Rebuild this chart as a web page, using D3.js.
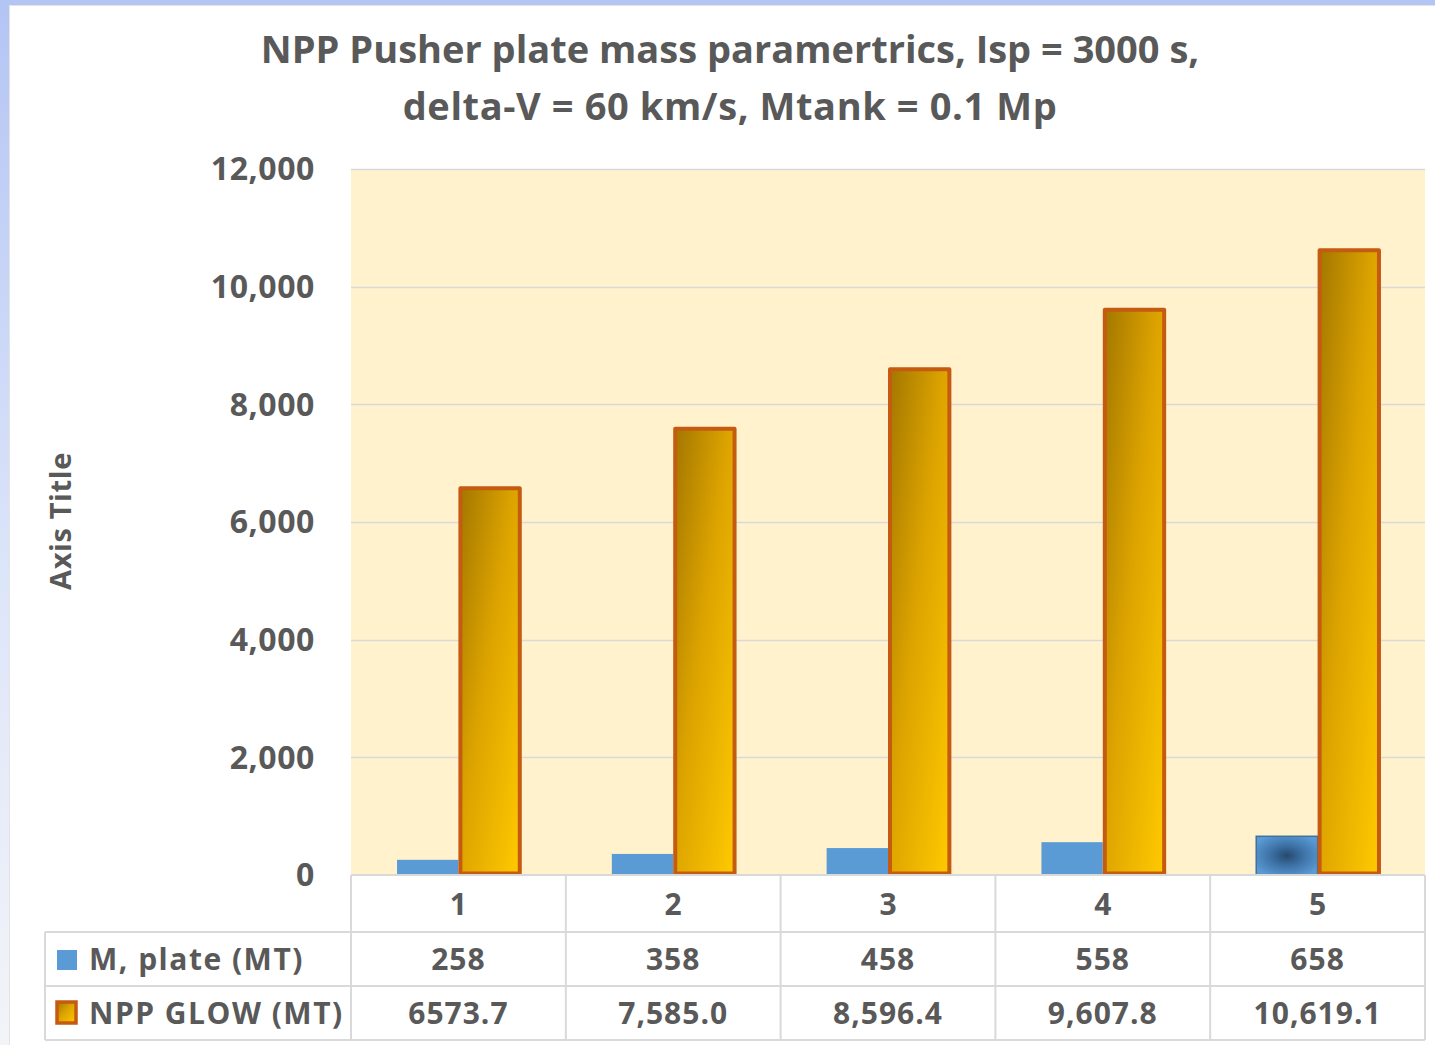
<!DOCTYPE html>
<html>
<head>
<meta charset="utf-8">
<script src="https://cdn.jsdelivr.net/npm/d3@7"></script>
<style>
  html, body { margin: 0; padding: 0; background: #ffffff; }
  svg { display: block; }
  text { font-family: "Open Sans", Lato, sans-serif; font-weight: 700; fill: #595959; }
</style>
</head>
<body>
<svg id="chart" width="1435" height="1045"></svg>
<script>
// Chart data
const categories = ["1", "2", "3", "4", "5"];
const seriesNames = ["M, plate (MT)", "NPP GLOW (MT)"];
const plateMass = [258, 358, 458, 558, 658];
const glowMass = [6573.7, 7585.0, 8596.4, 9607.8, 10619.1];
const plateLabels = ["258", "358", "458", "558", "658"];
const glowLabels = ["6573.7", "7,585.0", "8,596.4", "9,607.8", "10,619.1"];
const yTicks = [0, 2000, 4000, 6000, 8000, 10000, 12000];
const titleLines = ["NPP Pusher plate mass paramertrics, Isp = 3000 s,", "delta-V = 60 km/s, Mtank = 0.1 Mp"];
const axisTitle = "Axis Title";

const svg = d3.select("#chart");
const W = 1435, H = 1045;
const plot = { left: 351, right: 1425, top: 169, bottom: 875 };

const defs = svg.append("defs");
// frame accent on the left edge fades downward
const edge = defs.append("linearGradient").attr("id", "edgeFade").attr("x1", 0).attr("y1", 0).attr("x2", 0).attr("y2", 1);
edge.append("stop").attr("offset", 0).attr("stop-color", "#b3c5f4");
edge.append("stop").attr("offset", 0.55).attr("stop-color", "#dde5f9");
edge.append("stop").attr("offset", 1).attr("stop-color", "#f3f4f8");

// gold fill for the GLOW bars
const gold = defs.append("linearGradient").attr("id", "gold").attr("x1", 0).attr("y1", 0).attr("x2", 1).attr("y2", 1);
gold.append("stop").attr("offset", 0).attr("stop-color", "#a37700");
gold.append("stop").attr("offset", 0.45).attr("stop-color", "#dca300");
gold.append("stop").attr("offset", 1).attr("stop-color", "#ffca00");

// highlight on the last plate bar
const spot = defs.append("radialGradient").attr("id", "spot").attr("cx", 0.5).attr("cy", 0.5).attr("r", 0.6);
spot.append("stop").attr("offset", 0).attr("stop-color", "#26496e");
spot.append("stop").attr("offset", 0.45).attr("stop-color", "#3d72a6");
spot.append("stop").attr("offset", 1).attr("stop-color", "#5b9bd5");

// page frame
svg.append("rect").attr("x", 0).attr("y", 0).attr("width", W).attr("height", H).attr("fill", "#ffffff");
svg.append("rect").attr("x", 0).attr("y", 0).attr("width", 9).attr("height", H).attr("fill", "url(#edgeFade)");
svg.append("rect").attr("x", 0).attr("y", 0).attr("width", W).attr("height", 5).attr("fill", "#b3c5f4");
svg.append("line").attr("x1", 9.5).attr("x2", 9.5).attr("y1", 5).attr("y2", H).attr("stroke", "#e4e4e4");
svg.append("line").attr("x1", 9).attr("x2", W).attr("y1", 5.5).attr("y2", 5.5).attr("stroke", "#e4e4e4");

// Title
svg.append("g").selectAll("text").data(titleLines).join("text")
  .attr("x", 730).attr("y", (d, i) => 63 + i * 57)
  .attr("text-anchor", "middle").attr("font-size", 38).attr("letter-spacing", (d, i) => i === 1 ? 0.6 : 0)
  .text(d => d);

// Scales
const y = d3.scaleLinear().domain([0, 12000]).range([plot.bottom, plot.top]);
const x0 = d3.scaleBand().domain(categories).range([plot.left, plot.right]);
const bw = x0.bandwidth();
const barW = bw / 3.5;
const x1 = d3.scaleBand().domain(seriesNames).range([barW * 0.75, bw - barW * 0.75]);

// plot background
svg.append("rect").attr("x", plot.left).attr("y", plot.top)
  .attr("width", plot.right - plot.left).attr("height", plot.bottom - plot.top)
  .attr("fill", "#fff2cc");

// gridlines
svg.append("g").selectAll("line").data(yTicks.filter(t => t > 0)).join("line")
  .attr("x1", plot.left).attr("x2", plot.right)
  .attr("y1", d => Math.round(y(d)) + 0.5).attr("y2", d => Math.round(y(d)) + 0.5)
  .attr("stroke", "#d9d9d9").attr("stroke-width", 1.5);

// y axis
const yAxis = svg.append("g").attr("transform", `translate(${plot.left},0)`)
  .call(d3.axisLeft(y).tickValues(yTicks).tickFormat(d3.format(",")).tickSize(0).tickPadding(36));
yAxis.select(".domain").remove();
yAxis.selectAll("text").attr("font-size", 32).attr("fill", "#595959").attr("letter-spacing", 0.6)
  .style("font-family", "'Open Sans', sans-serif").style("font-weight", 700).attr("dy", "0.34em");

// axis title
svg.append("text").attr("transform", "translate(71,521) rotate(-90)")
  .attr("text-anchor", "middle").attr("font-size", 29).attr("letter-spacing", 0.6).text(axisTitle);

// bars
const rows = categories.map((c, i) => ({ c, i, plate: plateMass[i], glow: glowMass[i] }));
const groups = svg.append("g").selectAll("g").data(rows).join("g")
  .attr("transform", d => `translate(${x0(d.c)},0)`);

groups.append("rect")
  .attr("x", x1(seriesNames[0])).attr("width", x1.bandwidth())
  .attr("y", d => y(d.plate)).attr("height", d => y(0) - y(d.plate))
  .attr("fill", d => d.i === 4 ? "url(#spot)" : "#5b9bd5")
  .attr("stroke", d => d.i === 4 ? "#41719c" : "none").attr("stroke-width", 1.5);

groups.append("rect")
  .attr("x", x1(seriesNames[1]) + 2).attr("width", x1.bandwidth() - 2)
  .attr("y", d => y(d.glow)).attr("height", d => y(0) - y(d.glow) - 1.5)
  .attr("fill", "url(#gold)")
  .attr("stroke", "#c55a11").attr("stroke-width", 4).attr("stroke-linejoin", "round");

// data table
const tbl = svg.append("g");
const rowY = [875, 932, 986, 1040];
const tableLeft = 45;
const lineColor = "#d9d9d9";
// horizontal rules
tbl.append("line").attr("x1", plot.left).attr("x2", plot.right).attr("y1", rowY[0]).attr("y2", rowY[0]).attr("stroke", lineColor).attr("stroke-width", 2);
[1, 2, 3].forEach(k => {
  tbl.append("line").attr("x1", tableLeft).attr("x2", plot.right).attr("y1", rowY[k]).attr("y2", rowY[k]).attr("stroke", lineColor).attr("stroke-width", 2);
});
// vertical rules
const colEdges = categories.map(c => x0(c)).concat([plot.right]);
colEdges.forEach(xv => {
  tbl.append("line").attr("x1", xv).attr("x2", xv).attr("y1", rowY[0]).attr("y2", rowY[3]).attr("stroke", lineColor).attr("stroke-width", 2);
});
tbl.append("line").attr("x1", tableLeft).attr("x2", tableLeft).attr("y1", rowY[1]).attr("y2", rowY[3]).attr("stroke", lineColor).attr("stroke-width", 2);

// category header
tbl.selectAll("text.cat").data(categories).join("text").attr("class", "cat")
  .attr("x", d => x0(d) + bw / 2).attr("y", (rowY[0] + rowY[1]) / 2 + 11)
  .attr("text-anchor", "middle").attr("font-size", 30).text(d => d);

// value rows
const tableRows = [plateLabels, glowLabels];
tableRows.forEach((labels, r) => {
  tbl.selectAll(`text.v${r}`).data(labels).join("text").attr("class", `v${r}`)
    .attr("x", (d, i) => x0(categories[i]) + bw / 2).attr("y", (rowY[r + 1] + rowY[r + 2]) / 2 + 11)
    .attr("text-anchor", "middle").attr("font-size", 30).attr("letter-spacing", 1).text(d => d);
  tbl.append("text").attr("x", 89).attr("y", (rowY[r + 1] + rowY[r + 2]) / 2 + 11)
    .attr("font-size", 30).attr("letter-spacing", 1.5).text(seriesNames[r]);
});

// legend keys
tbl.append("rect").attr("x", 57).attr("y", 950).attr("width", 20).attr("height", 20).attr("fill", "#5b9bd5");
tbl.append("rect").attr("x", 57).attr("y", 1002).attr("width", 19).attr("height", 21)
  .attr("fill", "url(#gold)").attr("stroke", "#c55a11").attr("stroke-width", 3.5);
</script>
</body>
</html>
